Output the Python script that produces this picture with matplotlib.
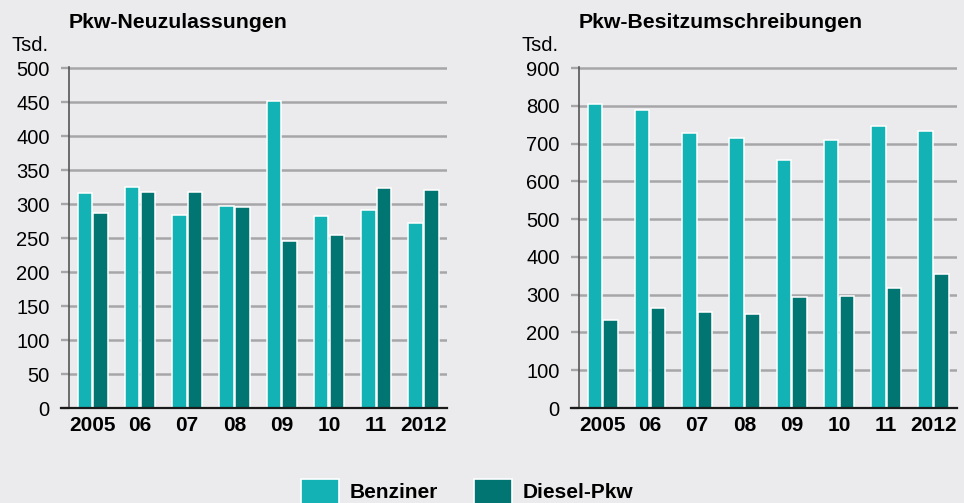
import matplotlib
matplotlib.use("Agg")
import matplotlib.pyplot as plt
import numpy as np
from matplotlib.patches import Rectangle

plt.rcParams['font.family'] = ['Liberation Sans', 'DejaVu Sans']

# Daten (Tsd.)
jahre = ['2005', '06', '07', '08', '09', '10', '11', '2012']
neu_benziner = [316, 325, 284, 297, 451, 282, 291, 272]
neu_diesel = [287, 318, 317, 295, 246, 255, 324, 321]
besitz_benziner = [805, 789, 728, 716, 656, 710, 747, 733]
besitz_diesel = [232, 266, 255, 250, 295, 296, 318, 355]

BG = '#ebebed'
C_BENZ = '#13b2b5'
C_DIES = '#007571'
GRID = '#a6a6a8'

W, H = 964, 503


def draw_panel(ax, benz, dies, ymax, step, title, x_left):
    x = np.arange(len(jahre))
    ax.set_facecolor(BG)
    ax.bar(x + 0.335, benz, width=0.31, color=C_BENZ, edgecolor='white',
           linewidth=1.1, zorder=3)
    ax.bar(x + 0.67, dies, width=0.31, color=C_DIES, edgecolor='white',
           linewidth=1.1, zorder=3)

    ax.set_xlim(0, len(jahre))
    ax.set_ylim(0, ymax * 1.003)
    ax.set_yticks(np.arange(0, ymax + 1, step))
    ax.set_xticks(x + 0.5)
    ax.set_xticklabels(jahre, fontsize=15, fontweight='bold')
    ax.tick_params(axis='x', length=0, pad=6)
    ax.tick_params(axis='y', length=5.8, width=1.7, color=GRID, pad=8,
                   labelsize=14.5)

    ax.set_axisbelow(True)
    ax.yaxis.grid(True, color=GRID, linewidth=1.8)
    for s in ['top', 'right', 'bottom']:
        ax.spines[s].set_visible(False)
    ax.spines['left'].set_color('#555555')
    ax.spines['left'].set_linewidth(1.2)
    ax.spines['left'].set_zorder(4)

    # Grundlinie, links etwas über die Achse hinaus
    ax.axhline(0, xmin=-8 / 378, xmax=1, color='#1a1a1a', linewidth=1.6,
               clip_on=False, zorder=5)

    fig.text(x_left / W, (H - 28) / H, title, fontsize=15.3,
             fontweight='bold', va='baseline', ha='left')
    fig.text((x_left - 20) / W, (H - 51) / H, 'Tsd.', fontsize=14.5,
             va='baseline', ha='right')


fig = plt.figure(figsize=(W / 100, H / 100), dpi=100, facecolor=BG)

ax1 = fig.add_axes([69 / W, (H - 408) / H, 378 / W, 341 / H])
ax2 = fig.add_axes([579 / W, (H - 408) / H, 378 / W, 341 / H])

draw_panel(ax1, neu_benziner, neu_diesel, 500, 50, 'Pkw-Neuzulassungen', 69)
draw_panel(ax2, besitz_benziner, besitz_diesel, 900, 100,
           'Pkw-Besitzumschreibungen', 579)

# Legende unten (am Rand abgeschnitten)
for x0, col, lab, tx in [(301, C_BENZ, 'Benziner', 350),
                         (474, C_DIES, 'Diesel-Pkw', 523)]:
    fig.add_artist(Rectangle((x0 / W, -0.05), 38 / W, (H - 479) / H + 0.05,
                             transform=fig.transFigure, facecolor=col,
                             edgecolor='white', linewidth=1.2))
    fig.text(tx / W, 0.5 / H, lab, fontsize=15, fontweight='bold',
             va='bottom', ha='left')

plt.savefig('out.png', dpi=100, facecolor=BG)
plt.close()
